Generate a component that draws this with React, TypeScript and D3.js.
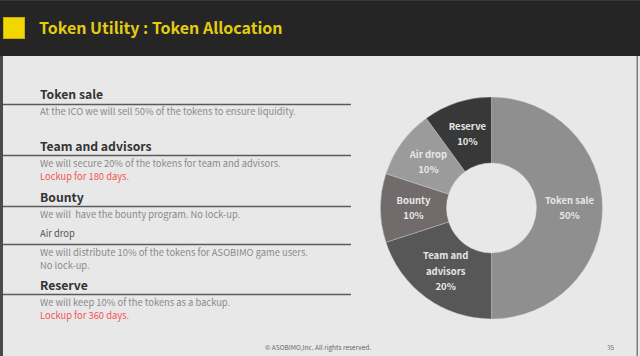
import React from "react";
import * as d3 from "d3";

const categories = ["Token sale", "Team and advisors", "Bounty", "Air drop", "Reserve"];
const values = [50, 20, 10, 10, 10];
const sliceColors = ["#8f8f8f", "#575757", "#716c6b", "#9b9b9b", "#383838"];
const sliceLabels = [["Token sale", "50%"], ["Team and", "advisors", "20%"], ["Bounty", "10%"], ["Air drop", "10%"], ["Reserve", "10%"]];

const sections = [
  { title: "Token sale", lines: [{ t: "At the ICO we will sell 50% of the tokens to ensure liquidity.", red: false }] },
  { title: "Team and advisors", lines: [{ t: "We will secure 20% of the tokens for team and advisors.", red: false }, { t: "Lockup for 180 days.", red: true }] },
  { title: "Bounty", lines: [{ t: "We will\u00a0 have the bounty program. No lock-up.", red: false }] },
  { title: "Air drop", small: true, lines: [{ t: "We will distribute 10% of the tokens for ASOBIMO game users.", red: false }, { t: "No lock-up.", red: false }] },
  { title: "Reserve", lines: [{ t: "We will keep 10% of the tokens as a backup.", red: false }, { t: "Lockup for 360 days.", red: true }] },
];
const titleBaselines = [99, 151, 202, 237, 290];
const ruleYs = [104.5, 155.5, 206.5, 244.5, 294.5];
const descStart = [115, 167, 218, 256, 306];

const FONT = "'Noto Sans CJK JP', 'Noto Sans', sans-serif";

export default function App() {
  const W = 640, H = 356;
  const cx = 491.5, cy = 208, R = 111, r = 45;
  const pie = d3.pie<number>().sort(null).value((d) => d)(values);
  const arc = d3.arc<d3.PieArcDatum<number>>().innerRadius(r).outerRadius(R);
  const labelArc = d3.arc<d3.PieArcDatum<number>>().innerRadius(r).outerRadius(R);
  return (
    <div style={{ position: "fixed", left: 0, top: 0 }}>
      <svg width={W} height={H} style={{ display: "block", fontFamily: FONT }}>
        <rect x={0} y={0} width={W} height={H} fill="#e8e8e8" />
        <rect x={0} y={0} width={W} height={56} fill="#252525" />
        <rect x={0} y={0} width={W} height={1} fill="#3a3a3a" />
        <rect x={0} y={56} width={3} height={H - 56} fill="#4a4a4a" />
        <rect x={636.5} y={56} width={1.5} height={H - 56} fill="#7a7a7a" />
        <rect x={3.5} y={17.5} width={21} height={21} fill="#f2d600" stroke="#c8b000" strokeWidth={1} />
        <text x={39} y={33.5} fontSize={16} fontWeight={700} fill="#e3cc10">Token Utility : Token Allocation</text>

        {sections.map((s, i) => (
          <g key={s.title}>
            <text x={40} y={titleBaselines[i]} fontSize={s.small ? 9.4 : 12.2} fontWeight={s.small ? 400 : 700} fill={s.small ? "#555" : "#333"}>{s.title}</text>
            <line x1={3} x2={351} y1={ruleYs[i]} y2={ruleYs[i]} stroke="#5a5a5a" strokeWidth={1.3} />
            {s.lines.map((l, j) => (
              <text key={j} x={40} y={descStart[i] + j * 12.5} fontSize={9.4} fill={l.red ? "#f25555" : "#8a8a8a"}>{l.t}</text>
            ))}
          </g>
        ))}

        <g transform={`translate(${cx},${cy})`}>
          {pie.map((p, i) => (
            <path key={categories[i]} d={arc(p) || ""} fill={sliceColors[i]} stroke="#d0d0d0" strokeWidth={0.4} />
          ))}
          {pie.map((p, i) => {
            const [lx, ly] = labelArc.centroid(p);
            const lines = sliceLabels[i];
            const lh = 15.5;
            const y0 = ly - ((lines.length - 1) * lh) / 2;
            return (
              <text key={"l" + i} textAnchor="middle" fontSize={9.5} fontWeight={700} fill="#e6e6e6">
                {lines.map((t, j) => (
                  <tspan key={j} x={lx} y={y0 + j * lh + 3.5}>{t}</tspan>
                ))}
              </text>
            );
          })}
        </g>

        <text x={265} y={350} fontSize={6.5} fill="#666">© ASOBIMO,Inc. All rights reserved.</text>
        <text x={607} y={350} fontSize={6.5} fill="#777">35</text>
      </svg>
    </div>
  );
}
